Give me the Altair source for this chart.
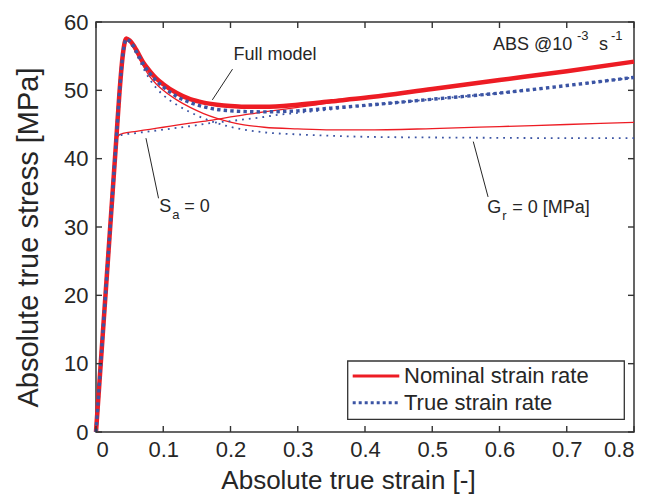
import altair as alt
import pandas as pd

# ---------------- data ----------------
strain_a = [0, 0.01, 0.02, 0.025, 0.03, 0.035, 0.04, 0.045, 0.05, 0.055, 0.06,
            0.07, 0.08, 0.09, 0.1, 0.12, 0.14, 0.16, 0.18, 0.2, 0.22, 0.25,
            0.3, 0.35, 0.4, 0.5, 0.6, 0.7, 0.8]
full_nominal = [0, 14.2, 28.4, 35.5, 42.6, 49.8, 55.3, 57.6, 57.3, 56.7, 55.9,
                54.1, 52.8, 51.7, 50.9, 49.6, 48.7, 48.2, 47.9, 47.7, 47.6, 47.6,
                47.9, 48.4, 48.9, 50.2, 51.5, 52.8, 54.2]
full_true = [0, 14.2, 28.4, 35.5, 42.6, 49.8, 55.3, 57.5, 57.2, 56.6, 55.7,
             53.9, 52.5, 51.4, 50.5, 49.1, 48.2, 47.6, 47.2, 47.0, 46.9, 46.85,
             47.0, 47.4, 47.8, 48.7, 49.6, 50.7, 51.9]
gr0_nominal = [0, 14.2, 28.4, 35.5, 42.6, 49.8, 55.3, 57.5, 57.1, 56.4, 55.5,
               53.6, 52.0, 50.9, 50.0, 48.6, 47.5, 46.6, 45.9, 45.35, 44.95, 44.6,
               44.35, 44.2, 44.2, 44.4, 44.7, 45.0, 45.3]
gr0_true = [0, 14.2, 28.4, 35.5, 42.6, 49.8, 55.3, 57.4, 57.0, 56.2, 55.3,
            53.3, 51.6, 50.3, 49.3, 47.9, 46.8, 45.9, 45.2, 44.65, 44.25, 43.85,
            43.55, 43.35, 43.2, 43.1, 43.05, 43.0, 43.0]

strain_b = [0, 0.01, 0.02, 0.025, 0.029, 0.031, 0.033, 0.036, 0.04, 0.06, 0.08,
            0.1, 0.12, 0.14, 0.17, 0.2, 0.22, 0.25, 0.27, 0.3, 0.35, 0.4, 0.5,
            0.6, 0.7, 0.8]
sa0_nominal = [0, 14.2, 28.4, 35.5, 41.2, 42.8, 43.3, 43.55, 43.7, 44.0, 44.3,
               44.6, 44.9, 45.2, 45.6, 46.1, 46.4, 46.85, 47.1, 47.5, 48.2, 48.85,
               50.2, 51.5, 52.8, 54.2]
sa0_true = [0, 14.2, 28.4, 35.5, 41.2, 42.7, 43.2, 43.4, 43.5, 43.75, 44.0,
            44.25, 44.5, 44.75, 45.2, 45.5, 45.75, 46.1, 46.4, 46.7, 47.2, 47.75,
            48.7, 49.6, 50.7, 51.9]

rate_names = ["Nominal strain rate", "True strain rate"]
x_ticks = [0, 0.1, 0.2, 0.3, 0.4, 0.5, 0.6, 0.7, 0.8]
y_ticks = [0, 10, 20, 30, 40, 50, 60]

# leader lines of annotations (data coordinates)
lead_x = [0.203, 0.0743, 0.561]
lead_y = [53.1, 43.0, 42.5]
lead_x2 = [0.173, 0.093, 0.583]
lead_y2 = [48.6, 34.2, 34.4]

# annotation anchors
ann_full = {"x": 0.2043, "y": 55.1}
ann_sa = {"x": 0.094, "y": 32.86}
ann_gr = {"x": 0.5816, "y": 32.8}
ann_abs = {"x": 0.5904, "y": 56.64}

# ---------------- styling ----------------
W, H = 538, 410
RED = "#ed1c24"
BLUE = "#3b54a4"
AX = "#333333"
TXT = "#262626"
FONT = "Liberation Sans"

xscale = alt.Scale(domain=[0, 0.8], nice=False, zero=False)
yscale = alt.Scale(domain=[0, 60], nice=False, zero=False)
xaxis = alt.Axis(values=x_ticks, format=".1~f", title="Absolute true strain [-]",
                 titleX=252, titleY=56, titleBaseline="alphabetic",
                 titleAlign="center", titleFontSize=26)
yaxis = alt.Axis(values=y_ticks, format="d", title="Absolute true stress [MPa]",
                 titleX=-59, titleY=215, titleBaseline="alphabetic",
                 titleAlign="center", titleAngle=270, titleFontSize=29)


def XE(field):
    return alt.X(field, type="quantitative", scale=xscale, axis=xaxis)


def YE(field):
    return alt.Y(field, type="quantitative", scale=yscale, axis=yaxis)


def series(strain, stress, name):
    return pd.DataFrame({"strain": strain, "stress": stress, "series": name})


thin_red_df = pd.concat([series(strain_b, sa0_nominal, "sa0"),
                         series(strain_a, gr0_nominal, "gr0")])
thin_blue_df = pd.concat([series(strain_b, sa0_true, "sa0"),
                          series(strain_a, gr0_true, "gr0")])
thick_red_df = series(strain_a, full_nominal, "full")
thick_blue_df = series(strain_a, full_true, "full")

thin_red = alt.Chart(thin_red_df).mark_line(
    color=RED, strokeWidth=1.3, interpolate="monotone").encode(
    x=XE("strain"), y=YE("stress"), detail="series:N")
thin_blue = alt.Chart(thin_blue_df).mark_line(
    color=BLUE, strokeWidth=1.8, strokeDash=[1.8, 5], strokeCap="butt",
    interpolate="monotone").encode(x=XE("strain"), y=YE("stress"), detail="series:N")
thick_red = alt.Chart(thick_red_df).mark_line(
    color=RED, strokeWidth=4.5, interpolate="monotone").encode(
    x=XE("strain"), y=YE("stress"))
thick_blue = alt.Chart(thick_blue_df).mark_line(
    color=BLUE, strokeWidth=3.4, strokeDash=[3.4, 3.2], strokeCap="butt",
    interpolate="monotone").encode(x=XE("strain"), y=YE("stress"))

# inward ticks on all four sides
xt = pd.DataFrame({"v": x_ticks})
yt = pd.DataFrame({"v": y_ticks})
TL = 6
tick_style = dict(color=AX, strokeWidth=1.4)
xt_bottom = alt.Chart(xt).mark_rule(**tick_style).encode(
    x=XE("v"), y=alt.value(H), y2=alt.value(H - TL))
xt_top = alt.Chart(xt).mark_rule(**tick_style).encode(
    x=XE("v"), y=alt.value(0), y2=alt.value(TL))
yt_left = alt.Chart(yt).mark_rule(**tick_style).encode(
    y=YE("v"), x=alt.value(0), x2=alt.value(TL))
yt_right = alt.Chart(yt).mark_rule(**tick_style).encode(
    y=YE("v"), x=alt.value(W), x2=alt.value(W - TL))

# leader lines
lead_df = pd.DataFrame({"x": lead_x, "y": lead_y, "x2": lead_x2, "y2": lead_y2})
leaders = alt.Chart(lead_df).mark_rule(color=TXT, strokeWidth=1).encode(
    x=XE("x"), y=YE("y"), x2="x2:Q", y2="y2:Q")


def text_part(anchor, txt, size, dx=0, dy=0):
    df = pd.DataFrame({"x": [anchor["x"]], "y": [anchor["y"]], "t": [txt]})
    return alt.Chart(df).mark_text(
        align="left", baseline="middle", font=FONT, fontSize=size, color=TXT,
        dx=dx, dy=dy).encode(x=XE("x"), y=YE("y"), text="t:N")


annotations = [
    text_part(ann_full, "Full model", 18),
    text_part(ann_sa, "S", 18),
    text_part(ann_sa, "a", 13, dx=13, dy=8),
    text_part(ann_sa, "= 0", 18, dx=25),
    text_part(ann_gr, "G", 18),
    text_part(ann_gr, "r", 13, dx=15, dy=8),
    text_part(ann_gr, "= 0 [MPa]", 18, dx=25),
    text_part(ann_abs, "ABS @10", 18),
    text_part(ann_abs, "-3", 13, dx=84, dy=-8.5),
    text_part(ann_abs, "s", 18, dx=106),
    text_part(ann_abs, "-1", 13, dx=118, dy=-8.5),
]

# legend (drawn manually to reproduce the boxed MATLAB legend)
leg_df = pd.DataFrame({"label": rate_names})
leg_box = alt.Chart(leg_df.head(1)).mark_rect(
    fill="white", stroke=AX, strokeWidth=1.3).encode(
    x=alt.value(251.7), x2=alt.value(528.3), y=alt.value(339), y2=alt.value(397.3))
leg_red = alt.Chart(leg_df.head(1)).mark_rule(color=RED, strokeWidth=3).encode(
    x=alt.value(256.7), x2=alt.value(303.3), y=alt.value(354))
leg_blue = alt.Chart(leg_df.tail(1)).mark_rule(
    color=BLUE, strokeWidth=3, strokeDash=[3, 3]).encode(
    x=alt.value(256.7), x2=alt.value(303.3), y=alt.value(380.7))
leg_t1 = alt.Chart(leg_df.head(1)).mark_text(
    align="left", baseline="middle", font=FONT, fontSize=22, color=TXT).encode(
    x=alt.value(308), y=alt.value(354), text="label:N")
leg_t2 = alt.Chart(leg_df.tail(1)).mark_text(
    align="left", baseline="middle", font=FONT, fontSize=22, color=TXT).encode(
    x=alt.value(308), y=alt.value(380.7), text="label:N")

chart = alt.layer(
    thin_red, thin_blue, thick_red, thick_blue,
    xt_bottom, xt_top, yt_left, yt_right,
    leaders, *annotations,
    leg_box, leg_red, leg_blue, leg_t1, leg_t2,
).properties(
    width=W, height=H,
    autosize=alt.AutoSizeParams(type="none"),
    padding={"left": 88, "top": 14, "right": 16, "bottom": 63},
).configure_view(
    stroke=AX, strokeWidth=1.5
).configure_axis(
    ticks=False, domain=False, grid=False,
    labelFont=FONT, labelFontSize=22, labelColor=TXT,
    titleFont=FONT, titleFontWeight="normal", titleColor=TXT,
).configure_axisX(
    labelPadding=7,
).configure_axisY(
    labelPadding=8,
)

chart.save("out.html", embed_options={"renderer": "svg", "actions": False})
